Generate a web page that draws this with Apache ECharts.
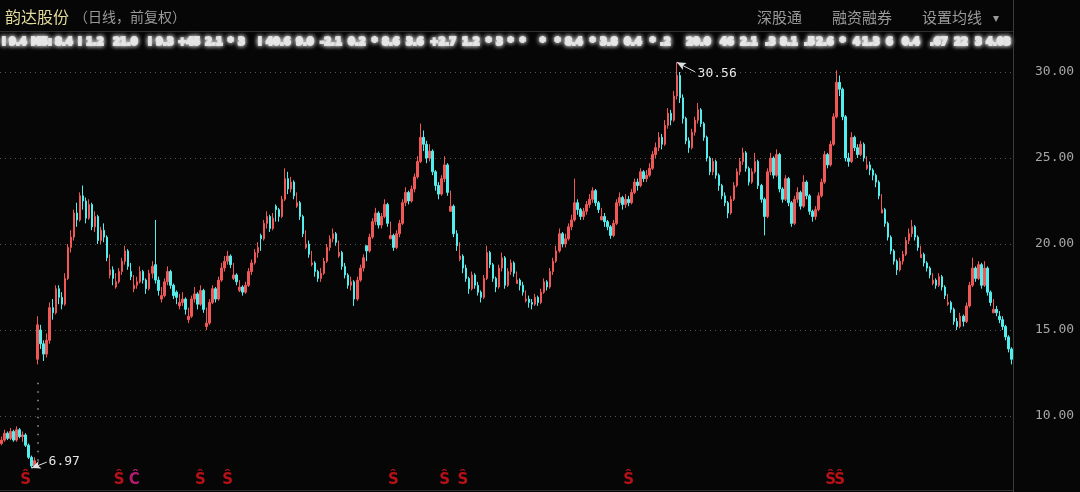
<!DOCTYPE html>
<html><head><meta charset="utf-8">
<script src="https://cdn.jsdelivr.net/npm/echarts/dist/echarts.min.js"></script>
<style>html,body{margin:0;padding:0;background:#060606;}#c{width:1080px;height:492px;}</style>
</head><body><div id="c"></div>
<script>
// ---- data (daily OHLC) ----
const opens = [
8.4,8.6,9.0,8.7,9.1,8.6,9.2,8.8,8.9,8.3,
7.6,7.1,13.3,15.0,14.2,13.6,14.4,16.3,16.0,17.4,
16.9,16.5,18.0,19.8,20.4,21.8,21.4,22.8,22.5,21.5,
22.3,21.0,21.6,20.2,20.8,20.4,18.2,18.5,17.5,17.8,
18.4,19.0,19.6,18.4,17.4,17.6,17.8,18.4,17.9,17.4,
18.3,18.8,17.9,16.8,17.0,17.8,18.4,17.6,17.2,16.4,
16.6,16.8,15.6,15.8,16.8,17.1,16.5,17.3,15.2,15.4,
16.6,17.4,16.8,17.9,18.6,19.0,19.3,18.0,18.2,17.3,
17.5,17.2,17.6,18.4,18.9,19.5,20.5,20.3,21.2,21.6,
20.9,22.2,22.0,21.6,22.6,23.8,23.2,23.6,22.2,22.4,
21.6,19.8,20.0,18.8,18.9,18.4,18.0,18.3,19.0,19.8,
20.3,20.6,19.3,19.5,18.7,18.2,17.6,17.8,16.8,17.9,
18.6,19.9,19.6,20.4,21.3,21.8,21.1,21.6,22.3,20.3,
20.5,19.8,20.6,21.2,22.4,23.0,22.5,23.2,23.9,24.8,
26.2,25.8,25.0,25.4,24.2,23.4,22.9,23.8,24.6,21.9,
22.2,20.6,19.1,19.3,18.6,18.0,17.4,18.2,17.6,17.2,
16.9,18.0,19.5,18.8,18.0,17.5,18.6,19.2,17.6,18.4,
18.9,17.7,17.9,17.6,16.7,16.8,16.6,16.5,16.9,16.6,
17.2,17.8,17.5,18.4,19.0,19.6,20.6,20.0,20.3,21.0,
21.4,22.4,22.0,21.6,21.9,22.3,22.6,23.1,22.4,21.4,
21.6,21.3,21.0,20.5,21.2,22.4,22.7,22.3,22.6,22.4,
23.0,23.6,23.4,24.2,23.8,24.0,24.4,25.2,25.6,26.2,
25.8,26.9,27.6,27.2,28.6,29.8,28.5,27.3,26.0,25.6,
26.5,27.2,27.8,27.0,26.2,25.0,24.2,24.8,24.0,23.4,
22.8,22.4,21.8,22.6,23.4,24.2,24.8,25.3,24.4,23.6,
24.2,24.8,23.4,22.6,21.6,24.2,25.0,24.0,25.2,23.2,
22.6,23.8,22.4,21.2,22.6,23.0,22.2,23.6,22.8,21.9,
21.6,22.0,22.8,23.6,25.2,24.6,25.8,27.4,29.4,29.0,
27.4,25.0,24.8,26.2,25.6,25.2,25.8,24.4,24.6,24.3,
24.0,23.6,21.8,22.0,21.2,20.4,19.6,19.0,18.5,19.0,
19.4,20.2,20.6,21.0,20.4,19.2,19.4,18.9,18.6,17.7,
17.9,17.6,18.1,17.5,16.5,16.6,16.2,15.5,15.2,15.8,
15.5,16.4,17.6,18.6,18.0,18.8,17.6,18.6,17.2,16.0,
16.2,15.8,15.6,15.2,14.6,13.9
];
const closes = [
8.6,9.0,8.7,9.1,8.6,9.2,8.8,8.9,8.3,7.6,
7.1,7.4,15.3,14.2,13.6,14.4,16.3,16.0,17.4,16.9,
16.5,18.0,19.8,20.4,21.8,21.4,22.8,22.5,21.5,22.3,
21.0,21.6,20.2,20.8,20.4,19.2,18.5,18.0,17.8,18.4,
19.0,19.6,18.7,18.1,17.6,17.8,18.4,17.9,17.4,18.3,
18.7,17.9,17.3,17.0,17.8,18.4,17.6,17.0,16.9,16.6,
16.8,16.2,15.8,16.8,17.1,16.5,17.3,16.2,15.4,16.6,
17.4,16.8,17.9,18.6,19.0,19.3,18.8,18.2,17.8,17.5,
17.2,17.6,18.4,18.9,19.5,19.8,20.3,21.2,21.6,20.9,
21.5,22.0,21.6,22.6,23.8,23.2,23.6,22.8,22.4,21.6,
20.6,20.0,19.4,18.9,18.4,18.0,18.3,19.0,19.8,20.3,
20.6,20.1,19.5,18.7,18.2,17.6,17.8,16.8,17.9,18.6,
19.2,19.6,20.4,21.3,21.8,21.1,21.6,22.3,21.2,20.5,
19.8,20.6,21.2,22.4,23.0,22.5,23.2,23.9,24.8,26.2,
25.8,25.0,25.4,24.2,23.4,22.9,23.8,24.6,23.0,22.2,
20.6,19.9,19.3,18.6,18.0,17.4,18.2,17.6,17.2,16.9,
18.0,19.5,18.8,18.0,17.5,18.6,19.2,17.6,18.4,18.9,
18.3,17.9,17.6,17.2,16.8,16.6,16.5,16.9,16.6,17.2,
17.8,17.5,18.4,19.0,19.6,20.6,20.0,20.3,21.0,21.4,
22.4,22.0,21.6,21.9,22.3,22.6,23.1,22.4,22.0,21.6,
21.3,21.0,20.5,21.2,22.4,22.7,22.3,22.6,22.4,23.0,
23.6,23.4,24.2,23.8,24.0,24.4,25.2,25.6,26.2,25.8,
26.9,27.6,27.2,28.6,29.8,28.5,27.3,26.0,25.6,26.5,
27.2,27.8,27.0,26.2,25.0,24.2,24.8,24.0,23.4,22.8,
22.4,21.8,22.6,23.4,24.2,24.8,25.3,24.4,23.6,24.2,
24.8,23.4,22.6,21.6,24.2,25.0,24.0,25.2,23.2,22.6,
23.8,22.4,21.2,22.6,23.0,22.2,23.6,22.8,21.9,21.6,
22.0,22.8,23.6,25.2,24.6,25.8,27.4,29.4,29.0,27.4,
25.0,24.8,26.2,25.6,25.2,25.8,25.0,24.6,24.3,24.0,
23.6,22.8,22.0,21.2,20.4,19.6,19.0,18.5,19.0,19.4,
20.2,20.6,21.0,20.4,19.8,19.4,18.9,18.6,18.2,17.9,
17.6,18.1,17.5,17.0,16.6,16.2,15.5,15.2,15.8,15.5,
16.4,17.6,18.6,18.0,18.8,17.6,18.6,17.2,16.6,16.2,
16.0,15.6,15.2,14.6,13.9,13.3
];
const lows = [
8.3,8.5,8.6,8.6,8.5,8.5,8.7,8.5,8.2,7.5,
6.97,7.0,13.0,13.9,13.2,13.4,14.2,15.6,15.9,16.5,
16.2,16.4,17.9,19.5,20.2,21.0,21.3,22.0,21.2,21.4,
20.8,20.7,20.0,20.0,20.1,19.0,18.0,17.6,17.4,17.7,
18.2,18.8,18.5,17.9,17.2,17.4,17.7,17.7,17.1,17.3,
18.0,17.7,17.0,16.6,16.9,17.6,17.4,16.8,16.5,16.2,
16.4,15.9,15.4,15.7,16.6,16.2,16.4,16.0,15.0,15.3,
16.5,16.6,16.7,17.8,18.4,18.8,18.6,17.9,17.6,17.2,
17.0,17.1,17.5,18.2,18.8,19.2,19.6,20.2,20.9,20.7,
20.8,21.3,21.3,21.5,22.5,22.9,23.0,22.6,22.1,21.4,
20.4,19.7,19.2,18.7,18.1,17.8,17.8,18.2,18.9,19.6,
20.1,19.9,19.2,18.5,18.0,17.4,17.3,16.4,16.7,17.8,
18.4,19.0,19.5,20.3,21.1,20.9,20.9,21.5,21.0,20.3,
19.6,19.7,20.4,21.1,22.2,22.3,22.4,23.0,23.8,24.7,
25.4,24.7,24.8,24.0,23.1,22.6,22.8,23.6,22.8,21.9,
20.4,19.6,19.0,18.3,17.8,17.1,17.3,17.4,17.0,16.6,
16.8,17.9,18.6,17.8,17.2,17.4,18.4,17.4,17.5,18.2,
18.1,17.7,17.3,17.0,16.6,16.3,16.2,16.4,16.4,16.5,
17.1,17.3,17.4,18.2,18.9,19.5,19.8,19.8,20.2,20.8,
21.3,21.7,21.4,21.4,21.7,22.1,22.4,22.2,21.8,21.4,
21.0,20.8,20.3,20.4,21.1,22.2,22.0,22.1,22.2,22.3,
22.9,23.1,23.3,23.6,23.6,23.9,24.3,25.0,25.4,25.5,
25.7,26.7,26.9,27.1,28.4,28.2,27.0,25.8,25.3,25.5,
26.3,27.0,26.8,26.0,24.8,24.0,24.0,23.8,23.1,22.6,
22.2,21.5,21.7,22.5,23.3,24.0,24.6,24.2,23.4,23.5,
24.1,23.2,22.4,20.5,21.5,24.0,23.8,23.9,23.0,22.4,
22.5,22.2,21.0,21.1,22.4,22.0,22.1,22.6,21.7,21.3,
21.4,21.9,22.7,23.5,24.4,24.5,25.7,27.3,28.6,27.2,
24.8,24.5,24.7,25.4,25.0,25.1,24.8,24.3,24.0,23.7,
23.3,22.6,21.8,21.0,20.2,19.4,18.8,18.2,18.4,18.8,
19.3,20.0,20.4,20.2,19.6,19.2,18.7,18.4,18.0,17.6,
17.4,17.5,17.3,16.8,16.4,16.0,15.3,15.0,15.1,15.2,
15.4,16.3,17.5,17.8,17.9,17.4,17.5,17.0,16.4,16.0,
15.8,15.4,15.0,14.4,13.7,13.0
];
const highs = [
8.8,9.2,9.1,9.3,9.2,9.4,9.3,9.1,9.0,8.4,
7.7,7.6,15.8,15.3,14.4,14.8,16.6,16.8,17.6,17.6,
17.2,18.3,20.0,20.8,22.0,22.4,23.0,23.4,22.7,22.6,
22.4,21.9,21.7,21.0,21.2,20.5,19.4,18.7,18.3,18.6,
19.2,19.9,19.7,18.9,18.2,18.1,18.7,18.5,18.0,18.5,
19.0,21.4,18.1,17.5,18.0,18.7,18.5,17.7,17.3,17.1,
17.2,16.9,16.3,17.0,17.5,17.2,17.6,17.4,16.3,16.8,
17.6,17.5,18.1,18.9,19.3,19.6,19.4,18.9,18.3,17.9,
17.6,17.8,18.6,19.1,19.7,20.1,20.6,21.4,21.9,21.7,
21.8,22.3,22.1,22.8,24.4,24.2,23.9,23.7,23.0,22.5,
21.7,20.8,20.2,19.6,19.0,18.5,18.6,19.2,20.0,20.5,
20.9,20.7,20.2,19.6,18.9,18.3,18.1,17.9,18.1,18.8,
19.4,19.9,20.6,21.5,22.1,21.9,21.8,22.6,22.4,21.3,
20.6,20.8,21.4,22.6,23.3,23.1,23.4,24.1,25.1,27.0,
26.6,26.0,25.8,25.5,24.3,23.6,24.0,25.1,24.7,23.1,
22.3,20.8,20.1,19.4,18.8,18.1,18.4,18.3,17.8,17.3,
18.2,19.9,19.6,18.9,18.1,18.8,19.5,19.3,18.6,19.1,
19.0,18.4,18.0,17.8,17.3,17.0,16.8,17.1,17.0,17.4,
18.0,17.9,18.6,19.2,19.9,20.9,20.7,20.6,21.2,21.7,
23.8,22.6,22.1,22.1,22.5,22.9,23.3,23.2,22.5,22.1,
21.8,21.4,21.1,21.4,22.6,23.0,22.8,22.9,22.8,23.2,
23.8,23.8,24.4,24.3,24.3,24.7,25.4,25.9,26.5,26.4,
27.2,27.9,27.8,28.9,30.56,30.0,28.7,27.4,26.2,26.7,
27.4,28.2,27.9,27.1,26.3,25.1,25.0,24.9,24.1,23.5,
23.0,22.5,22.8,23.6,24.4,25.0,25.6,25.4,24.5,24.4,
25.3,24.9,23.5,22.7,24.4,25.3,25.1,25.5,25.3,23.3,
24.0,23.9,22.5,22.8,23.3,23.1,24.0,23.7,22.9,22.0,
22.2,23.0,23.8,25.4,25.3,26.0,27.6,30.1,29.8,29.1,
27.5,25.3,26.5,26.3,25.8,26.0,25.9,25.1,24.8,24.4,
24.1,23.7,22.9,22.1,21.3,20.5,19.7,19.1,19.2,19.6,
20.4,20.9,21.4,21.1,20.5,19.9,19.5,19.0,18.7,18.3,
18.0,18.3,18.2,17.6,17.1,16.7,16.3,15.7,16.0,15.9,
16.6,17.8,19.2,18.7,19.0,18.9,19.0,18.7,17.3,16.8,
16.4,16.1,15.8,15.3,14.7,14.0
];
const days = closes.map((_, i) => 'D' + (i + 1));
// signal markers under the candles (day index, glyph)
const markerIdx = [8, 39, 44, 66, 75, 130, 147, 153, 208, 275, 278];
const markerTxt = ['Ŝ','Ŝ','Ĉ','Ŝ','Ŝ','Ŝ','Ŝ','Ŝ','Ŝ','Ŝ','Ŝ'];
// price gap (relisting) between day 12 and day 13
const gapIdx = 12;
const gapRange = [7.4, 12.2];
// obscured (pixelated) indicator strip: [x, text]
const blurStrip = [
  [2,'I'],[9,'9.4'],[31,'M5:'],[55,'8.4'],[78,'I'],[86,'1.2'],
  [113,'21.0'],[148,'I'],[156,'9.3'],[178,'+45'],[205,'2.1'],[228,'*'],[238,'3'],
  [258,'I'],[266,'40.6'],[296,'9.0'],[320,'-2.1'],[348,'0.2'],[372,'*'],[382,'8.6'],
  [406,'3.6'],[430,'+2.7'],[462,'1.2'],[486,'*'],[496,'3'],[508,'*'],[520,'*'],[540,'*'],[555,'*'],
  [565,'8.4'],[590,'*'],[600,'3.8'],[624,'0.4'],[650,'*'],[660,'.2'],
  [686,'20.0'],[720,'46'],[740,'2.1'],[765,'.3'],[780,'8.1'],[804,'.5'],[816,'2.6'],
  [840,'*'],[853,'4'],[862,'1.3'],[886,'6'],[902,'0.4'],[930,'.67'],[954,'22'],[975,'3'],[986,'4.03']
];

// ---- chart ----
const hiVal = Math.max(...highs), hiIdx = highs.indexOf(hiVal);
const loVal = Math.min(...lows), loIdx = lows.indexOf(loVal);
const UP = '#f05858', DOWN = '#52eeee';

const blurText = (x, t) => ({
  type: 'text', x: x, y: 42, silent: true,
  style: { text: t, fill: '#e6e6e6', stroke: '#d8d8d8', lineWidth: 2,
    font: 'bold 10px "DejaVu Sans"', verticalAlign: 'middle', textVerticalAlign: 'middle',
    textShadowBlur: 5, textShadowColor: '#ffffff' }
});
const hdr = (x, t, color, size) => ({
  type: 'text', x: x, y: 17, silent: true,
  style: { text: t, fill: color, font: size + 'px "Noto Sans CJK SC"',
    verticalAlign: 'middle', textVerticalAlign: 'middle' }
});

const chart = echarts.init(document.getElementById('c'), null, { renderer: 'canvas' });
chart.setOption({
  backgroundColor: '#060606',
  animation: false,
  grid: { left: 0, right: 67, top: -14, bottom: -96, containLabel: false, outerBoundsMode: 'none' },
  xAxis: { type: 'category', data: days, boundaryGap: true, show: false },
  yAxis: {
    type: 'value', position: 'right', min: 0, max: 35, interval: 5,
    axisLine: { show: true, lineStyle: { color: '#3a3a3a' } },
    axisTick: { show: false },
    axisLabel: { color: '#a6a6a6', fontSize: 13, fontFamily: '"DejaVu Sans Mono"', margin: 22,
      formatter: v => v.toFixed(2) },
    splitLine: { lineStyle: { color: '#555555', type: [1, 4], width: 1 } }
  },
  graphic: [
    { type: 'line', silent: true, shape: { x1: 0, y1: 31.5, x2: 1013, y2: 31.5 }, style: { stroke: '#2e2e2e', lineWidth: 1 } },
    { type: 'line', silent: true, shape: { x1: 0, y1: 490.5, x2: 1013, y2: 490.5 }, style: { stroke: '#2e2e2e', lineWidth: 1 } },
    { type: 'line', silent: true, shape: { x1: 1013.5, y1: 0, x2: 1013.5, y2: 492 }, style: { stroke: '#3a3a3a', lineWidth: 1 } },
    hdr(5, '韵达股份', '#e2da9a', 16),
    hdr(74, '（日线，前复权）', '#9a9a9a', 14),
    hdr(757, '深股通', '#9a9a9a', 15),
    hdr(832, '融资融券', '#9a9a9a', 15),
    hdr(922, '设置均线', '#9a9a9a', 15),
    hdr(993, '▾', '#9a9a9a', 12)
  ].concat(blurStrip.map(s => blurText(s[0], s[1]))),
  series: [
    {
      type: 'candlestick',
      data: days.map((_, i) => [opens[i], closes[i], lows[i], highs[i]]),
      barWidth: 2,
      itemStyle: { color: UP, color0: DOWN, borderColor: UP, borderColor0: DOWN, borderWidth: 1 },
      markLine: {
        silent: true, animation: false, symbol: ['none', 'none'],
        label: { show: false },
        data: [
          [
            { coord: [hiIdx, hiVal], symbol: 'arrow', symbolSize: [6, 9],
              lineStyle: { color: '#e0e0e0', width: 1, type: 'solid' },
              label: { show: true, position: 'end', formatter: hiVal.toFixed(2), color: '#e6e6e6',
                fontSize: 13, fontFamily: '"DejaVu Sans Mono"', distance: 3 } },
            { coord: [hiIdx + 6, hiVal - 0.55], symbol: 'none' }
          ],
          [
            { coord: [loIdx, loVal], symbol: 'arrow', symbolSize: [6, 9],
              lineStyle: { color: '#e0e0e0', width: 1, type: 'solid' },
              label: { show: true, position: 'end', formatter: loVal.toFixed(2), color: '#e6e6e6',
                fontSize: 13, fontFamily: '"DejaVu Sans Mono"', distance: 2 } },
            { coord: [loIdx + 5, loVal + 0.35], symbol: 'none' }
          ],
          [
            { coord: [gapIdx, gapRange[0]], lineStyle: { color: '#9a9a9a', width: 1.5, type: [1.5, 7] }, label: { show: false } },
            { coord: [gapIdx, gapRange[1]] }
          ]
        ]
      }
    },
    {
      type: 'scatter', silent: true, z: 5,
      symbolSize: 1, itemStyle: { color: 'rgba(0,0,0,0)' },
      label: { show: true, position: 'inside', fontSize: 15, fontWeight: 'bold', fontFamily: '"DejaVu Sans"' },
      data: markerIdx.map((d, k) => ({
        value: [d, 6.25],
        label: { formatter: markerTxt[k], color: markerTxt[k] === 'Ĉ' ? '#e0208a' : '#e3141c' }
      }))
    }
  ]
});
</script>
</body></html>
